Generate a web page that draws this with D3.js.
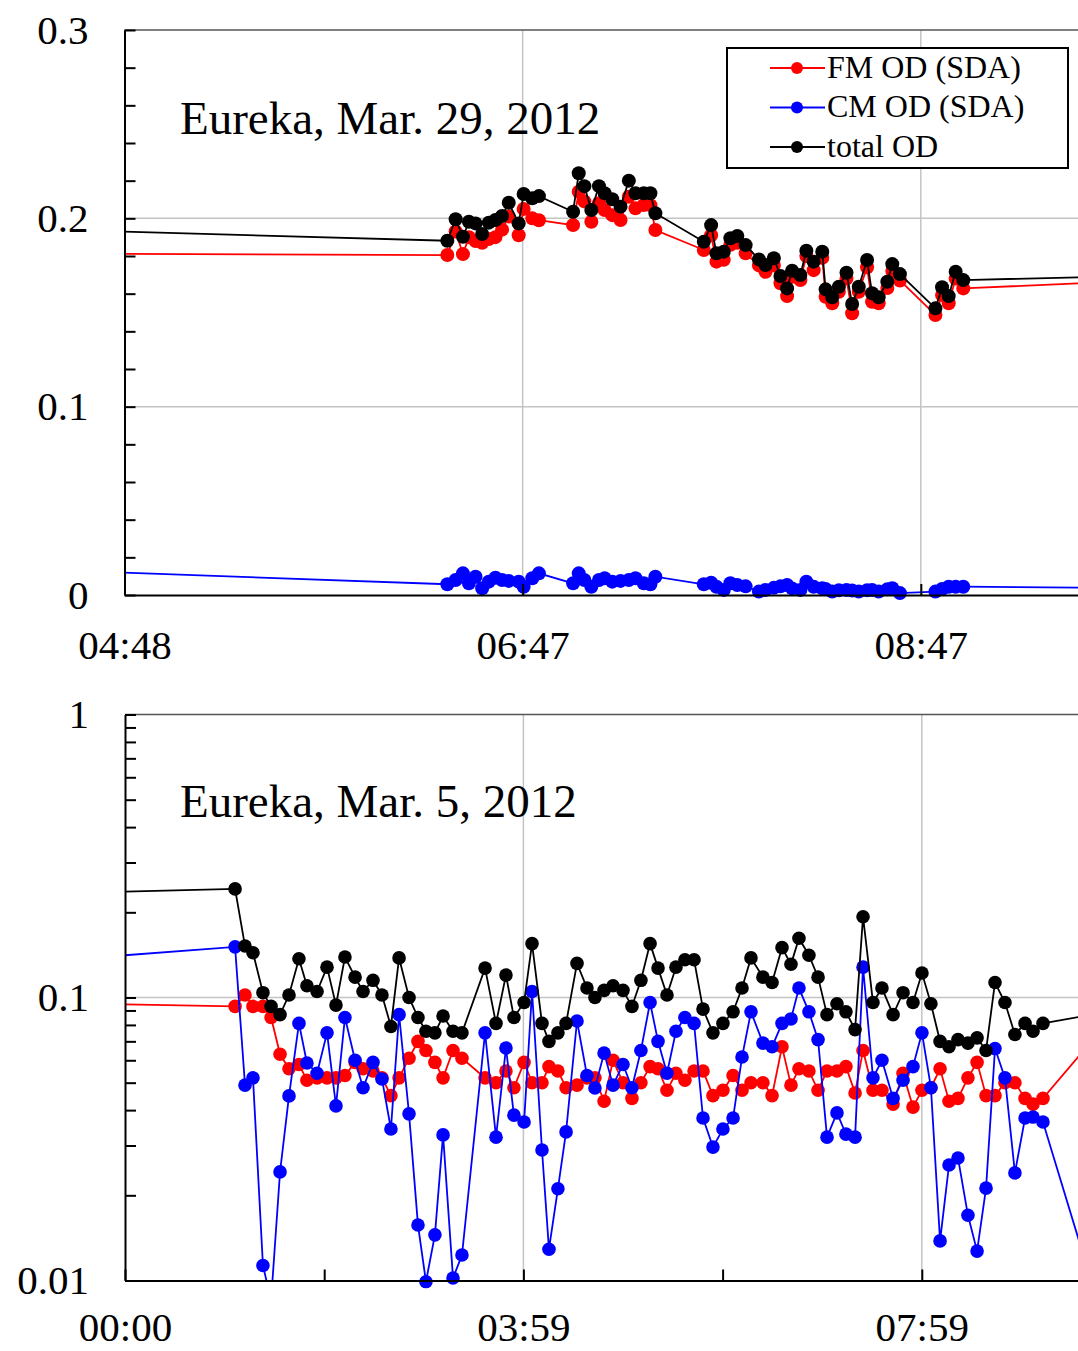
<!doctype html>
<html>
  <head>
    <meta charset="utf-8">
    <script src="https://cdnjs.cloudflare.com/ajax/libs/d3/7.8.5/d3.min.js"></script>
    <style>
      body { margin: 0; background: #fff; }
      svg { display: block; }
      text { font-family: "Liberation Serif", "Times New Roman", serif; fill: #000; }
      .grid line { stroke: #c4c4c4; stroke-width: 1.5; }
      .axis path, .axis line { stroke: #000; stroke-width: 2; }
      .axis text { font-size: 41px; font-family: "Liberation Serif", "Times New Roman", serif; }
      line.frame { stroke: #555; stroke-width: 1.5; }
      path.series { fill: none; stroke-width: 1.8; }
      text.title { font-size: 47px; }
      .legend text { font-size: 32px; }
      .legend rect { fill: #fff; stroke: #000; stroke-width: 2; }
    </style>
  </head>
  <body>
    <svg width="1078" height="1351"></svg>
    <script>
      // ---- Eureka, Mar. 29, 2012 (minutes after 00:00) ----
      var topTimes = [280.8,
        385.3, 387.8, 390.0, 391.8, 393.8, 395.8, 397.8, 399.8, 401.8, 403.8, 406.8, 408.3, 410.9, 412.9,
        423.2, 424.9, 426.6, 428.7, 431.0, 432.7, 435.0, 437.5, 440.0, 442.0, 444.5, 446.5, 448.0,
        462.6, 464.8, 466.4, 468.6, 470.6, 472.7, 475.2, 479.2, 481.2, 483.7, 485.7, 487.7, 489.2, 491.7,
        493.5, 495.7, 498.3, 499.3, 501.3, 503.3, 505.6, 507.3, 509.3, 511.8, 513.3, 515.3, 517.9, 519.4, 521.7,
        532.4, 534.4, 536.4, 538.5, 540.8,
        582.2];
      var topFM = [0.1812,
        0.1805, 0.193, 0.181, 0.190, 0.188, 0.187, 0.189, 0.190, 0.194, 0.201, 0.191, 0.205, 0.200, 0.199,
        0.1964, 0.2141, 0.209, 0.1982, 0.208, 0.2044, 0.2017, 0.1991, 0.2115, 0.2053, 0.2071, 0.207, 0.1938,
        0.1832, 0.191, 0.177, 0.178, 0.186, 0.187, 0.1814, 0.175, 0.1716, 0.175, 0.1655, 0.1587, 0.169, 0.1672,
        0.180, 0.1725, 0.179, 0.1584, 0.1549, 0.161, 0.168, 0.1496, 0.161, 0.174, 0.1557, 0.1549, 0.163, 0.172, 0.167,
        0.1487, 0.1593, 0.1549, 0.168, 0.1628,
        0.166];
      var topCM = [0.0123,
        0.0057, 0.008, 0.0115, 0.0062, 0.0097, 0.0036, 0.0071, 0.0092, 0.008, 0.0075, 0.0071, 0.0044, 0.0089, 0.0115,
        0.0062, 0.0115, 0.008, 0.0044, 0.008, 0.0089, 0.0071, 0.0075, 0.008, 0.0089, 0.0062, 0.0057, 0.0097,
        0.0057, 0.0065, 0.0044, 0.0027, 0.0062, 0.0053, 0.0046, 0.0018, 0.0027, 0.0038, 0.0046, 0.0053, 0.0035, 0.0027,
        0.0071, 0.0044, 0.0036, 0.0032, 0.0018, 0.0025, 0.0027, 0.0024, 0.0018, 0.0025, 0.0027, 0.0018, 0.0030, 0.0036, 0.0010,
        0.0018, 0.0032, 0.0044, 0.0044, 0.0044,
        0.0038];
      var topTotal = [0.1933,
        0.1881, 0.1995, 0.1902, 0.1982, 0.1973, 0.1917, 0.1977, 0.1991, 0.2012, 0.2083, 0.1973, 0.2129, 0.2106, 0.2118,
        0.2035, 0.2239, 0.2171, 0.2044, 0.2171, 0.2133, 0.2101, 0.2062, 0.2200, 0.2133, 0.2133, 0.2133, 0.2027,
        0.1876, 0.1964, 0.1814, 0.1823, 0.1894, 0.1906, 0.1858, 0.1782, 0.1752, 0.1788, 0.1694, 0.1628, 0.1722, 0.1699,
        0.1828, 0.1770, 0.1823, 0.1623, 0.1581, 0.1637, 0.1711, 0.1545, 0.1637, 0.1779, 0.1602, 0.1581, 0.1663, 0.1757, 0.1704,
        0.1522, 0.1634, 0.1587, 0.1716, 0.1672,
        0.1690];
      var topTickMinutes = [288, 408, 528];
      var topTickLabels = ["04:48", "06:47", "08:47"];
      var topYTicks = [0, 0.1, 0.2, 0.3];

      // ---- Eureka, Mar. 5, 2012 ----
      var botTimes = [-21.1,
        66.3, 72.3, 77.1, 83.1, 88.0, 93.4, 98.8, 104.8, 109.6, 115.7,
        121.7, 127.1, 132.5, 138.6, 143.4, 149.4, 154.8, 160.2, 165.1, 171.1,
        176.5, 181.3, 186.7, 191.6, 197.6, 203.0, 216.9, 223.5, 229.5, 234.3,
        240.4, 245.2, 251.2, 255.4, 260.8, 265.7, 272.3, 278.3, 283.1, 288.6,
        294.0, 300.0, 305.4, 310.8, 316.3, 321.1, 326.5, 331.9, 337.3, 342.8,
        348.2, 354.2, 360.2, 366.3, 371.7, 377.1, 384.3, 389.8, 395.8, 401.2,
        406.0, 412.0, 417.5, 422.9, 428.9, 434.3, 439.8, 444.6, 450.6, 456.0,
        462.7, 468.7, 474.7, 480.1, 485.5, 491.0, 496.4, 501.8, 507.8, 513.3,
        518.7, 524.1, 530.1, 536.1, 542.2, 547.0, 553.0,
        587.3];
      var botFM = [0.095,
        0.093, 0.102, 0.093, 0.093, 0.085, 0.063, 0.056, 0.058, 0.051, 0.052,
        0.052, 0.052, 0.053, 0.059, 0.056, 0.055, 0.052, 0.045, 0.052, 0.061,
        0.070, 0.065, 0.059, 0.052, 0.065, 0.061, 0.052, 0.050, 0.055, 0.048,
        0.059, 0.050, 0.050, 0.057, 0.055, 0.048, 0.049, 0.052, 0.052, 0.043,
        0.060, 0.050, 0.044, 0.050, 0.057, 0.056, 0.047, 0.054, 0.051, 0.055,
        0.055, 0.045, 0.047, 0.053, 0.047, 0.050, 0.050, 0.045, 0.067, 0.049,
        0.056, 0.055, 0.047, 0.055, 0.055, 0.057, 0.046, 0.065, 0.047, 0.047,
        0.042, 0.054, 0.041, 0.047, 0.048, 0.056, 0.043, 0.044, 0.052, 0.059,
        0.045, 0.045, 0.050, 0.050, 0.044, 0.042, 0.044,
        0.076];
      var botCM = [0.138,
        0.151, 0.049, 0.052, 0.0113, 0.0085, 0.0242, 0.0449, 0.081, 0.0587, 0.054,
        0.075, 0.0414, 0.085, 0.060, 0.048, 0.059, 0.0515, 0.0343, 0.087, 0.0388,
        0.0157, 0.0099, 0.0145, 0.0327, 0.0102, 0.0123, 0.075, 0.0321, 0.0663, 0.0384,
        0.0363, 0.105, 0.0289, 0.0129, 0.0211, 0.0335, 0.0826, 0.053, 0.0479, 0.0636,
        0.049, 0.058, 0.048, 0.065, 0.096, 0.070, 0.054, 0.076, 0.085, 0.081,
        0.0375, 0.0296, 0.0343, 0.0375, 0.0616, 0.089, 0.069, 0.067, 0.081, 0.084,
        0.108, 0.089, 0.071, 0.0321, 0.0391, 0.0329, 0.0321, 0.128, 0.052, 0.060,
        0.044, 0.051, 0.057, 0.075, 0.048, 0.0138, 0.0256, 0.0271, 0.0170, 0.0127,
        0.0212, 0.066, 0.052, 0.0240, 0.0375, 0.0378, 0.0363,
        0.0079];
      var botTotal = [0.235,
        0.242, 0.152, 0.144, 0.104, 0.093, 0.087, 0.102, 0.137, 0.110, 0.105,
        0.128, 0.094, 0.139, 0.118, 0.105, 0.115, 0.102, 0.079, 0.138, 0.100,
        0.085, 0.076, 0.075, 0.086, 0.076, 0.075, 0.127, 0.081, 0.120, 0.085,
        0.096, 0.155, 0.081, 0.070, 0.075, 0.081, 0.132, 0.108, 0.100, 0.106,
        0.110, 0.106, 0.093, 0.115, 0.155, 0.127, 0.102, 0.128, 0.136, 0.136,
        0.091, 0.075, 0.081, 0.089, 0.108, 0.138, 0.118, 0.113, 0.150, 0.131,
        0.162, 0.141, 0.118, 0.087, 0.095, 0.089, 0.077, 0.193, 0.096, 0.108,
        0.087, 0.104, 0.096, 0.122, 0.095, 0.070, 0.067, 0.071, 0.069, 0.072,
        0.065, 0.113, 0.096, 0.074, 0.081, 0.076, 0.081,
        0.088];
      var botTickMinutes = [0, 240, 480];
      var botTickLabels = ["00:00", "03:59", "07:59"];
      var botMinorMinutes = [120, 360];
      var botYTicks = [0.01, 0.1, 1];

      var seriesNames = ["FM OD (SDA)", "CM OD (SDA)", "total OD"];
      var seriesColors = ["#ff0000", "#0000ff", "#000000"];

      var W = 1078;
      var svg = d3.select("svg");
      var defs = svg.append("defs");

      function drawPanel(p) {
        var x = p.x, y = p.y;
        var x0 = x.range()[0], yTop = y.range()[1], yBot = y.range()[0];
        var g = svg.append("g");

        defs.append("clipPath").attr("id", p.id + "-lines")
          .append("rect")
            .attr("x", x0).attr("y", yTop)
            .attr("width", W - x0).attr("height", yBot - yTop);
        defs.append("clipPath").attr("id", p.id + "-dots")
          .append("rect")
            .attr("x", x0 - 8).attr("y", yTop - 8)
            .attr("width", W - x0 + 8).attr("height", yBot - yTop + 16);

        // grid
        var grid = g.append("g").attr("class", "grid");
        grid.selectAll("line.h").data(p.yGrid).enter()
          .append("line")
            .attr("x1", x0).attr("x2", W)
            .attr("y1", d => y(d)).attr("y2", d => y(d));
        grid.selectAll("line.v").data(p.xGrid).enter()
          .append("line")
            .attr("x1", d => x(d)).attr("x2", d => x(d))
            .attr("y1", yTop).attr("y2", yBot);

        g.append("line").attr("class", "frame")
          .attr("x1", x0).attr("x2", W)
          .attr("y1", yTop).attr("y2", yTop);

        // series
        var line = d3.line().x(d => x(d[0])).y(d => y(d[1]));
        p.series.forEach(function(values, k) {
          var pts = p.times.map((t, i) => [t, values[i]]);
          g.append("path")
            .datum(pts)
            .attr("class", "series")
            .attr("clip-path", "url(#" + p.id + "-lines)")
            .attr("stroke", seriesColors[k])
            .attr("d", line);
          g.append("g")
            .attr("clip-path", "url(#" + p.id + "-dots)")
            .selectAll("circle")
            .data(pts.filter(d => d[1] >= y.domain()[0] * 0.97))
            .enter()
            .append("circle")
              .attr("cx", d => x(d[0]))
              .attr("cy", d => y(d[1]))
              .attr("r", p.r)
              .attr("fill", seriesColors[k]);
        });

        // axes
        g.append("g")
            .attr("class", "axis")
            .attr("transform", "translate(" + x0 + ",0)")
            .call(d3.axisLeft(y)
              .tickValues(p.yMinor)
              .tickSizeInner(-11).tickSizeOuter(0)
              .tickPadding(36)
              .tickFormat(d => {
                var j = p.yLabels.findIndex(v => Math.abs(v - d) < 1e-9);
                return j < 0 ? "" : p.yFormat(d);
              }));

        g.append("g")
            .attr("class", "axis")
            .attr("transform", "translate(0," + yBot + ")")
            .call(d3.axisBottom(x)
              .tickValues(p.xTicks.concat(p.xMinor))
              .tickSizeInner(-11).tickSizeOuter(0)
              .tickPadding(p.xPad)
              .tickFormat(d => {
                var j = p.xTicks.indexOf(d);
                return j < 0 ? "" : p.xLabels[j];
              }));

        g.append("text")
          .attr("class", "title")
          .attr("x", 180).attr("y", p.titleY)
          .text(p.title);
      }

      var topX = d3.scaleLinear().domain([288, 648]).range([124.5, 124.5 + 360 * 3.318]);
      var topY = d3.scaleLinear().domain([0, 0.3]).range([595, 30]);
      drawPanel({
        id: "top", x: topX, y: topY, r: 7,
        times: topTimes, series: [topFM, topCM, topTotal],
        yGrid: [0.1, 0.2], xGrid: [408, 528],
        yMinor: d3.range(0, 16).map(i => i * 0.02),
        yLabels: topYTicks,
        yFormat: d => d === 0 ? "0" : d3.format(".1f")(d),
        xTicks: topTickMinutes, xLabels: topTickLabels, xMinor: [], xPad: 35,
        title: "Eureka, Mar. 29, 2012", titleY: 134
      });

      var botX = d3.scaleLinear().domain([0, 720]).range([125, 125 + 720 * 1.66]);
      var botY = d3.scaleLog().domain([0.01, 1]).range([1280.5, 714.5]);
      var logMinor = [];
      [0.01, 0.1].forEach(b => d3.range(1, 10).forEach(m => logMinor.push(b * m)));
      logMinor.push(1);
      drawPanel({
        id: "bot", x: botX, y: botY, r: 6.8,
        times: botTimes, series: [botFM, botCM, botTotal],
        yGrid: [0.1], xGrid: [240, 480],
        yMinor: logMinor,
        yLabels: botYTicks,
        yFormat: d => d === 1 ? "1" : d3.format(".2~f")(d),
        xTicks: botTickMinutes, xLabels: botTickLabels, xMinor: botMinorMinutes, xPad: 31.5,
        title: "Eureka, Mar. 5, 2012", titleY: 817
      });

      // legend (top panel)
      var legend = svg.append("g").attr("class", "legend");
      legend.append("rect")
        .attr("x", 727).attr("y", 48).attr("width", 341).attr("height", 120);
      var rows = legend.selectAll("g.row")
        .data(seriesNames)
        .enter()
        .append("g")
          .attr("transform", (d, i) => "translate(0," + (68 + i * 39.5) + ")");
      rows.append("line")
        .attr("x1", 770).attr("x2", 825)
        .attr("stroke", (d, i) => seriesColors[i])
        .attr("stroke-width", 1.8);
      rows.append("circle")
        .attr("cx", 797).attr("r", 6)
        .attr("fill", (d, i) => seriesColors[i]);
      rows.append("text")
        .attr("x", 827).attr("dy", "0.3em")
        .text(d => d);
    </script>
  </body>
</html>
